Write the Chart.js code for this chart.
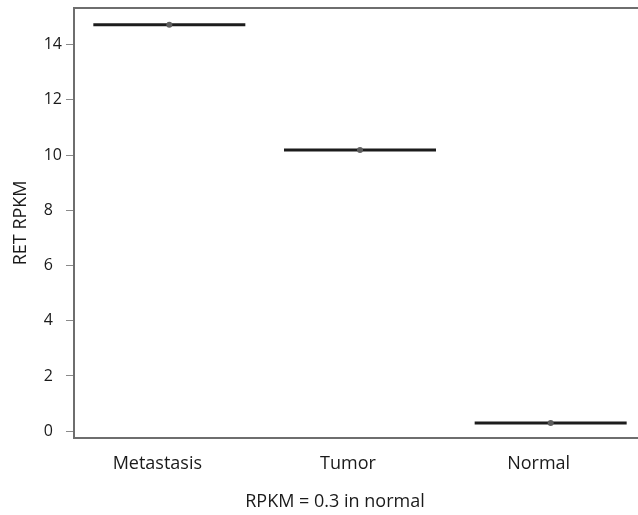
<!DOCTYPE html>
<html>
<head>
<meta charset="utf-8">
<script src="https://cdn.jsdelivr.net/npm/chart.js@4.4.0/dist/chart.umd.min.js"></script>
<style>
  html, body { margin: 0; padding: 0; background: #fff; overflow: hidden; }
  #wrap { position: relative; width: 670px; height: 515px; }
</style>
</head>
<body>
<div id="wrap"><canvas id="rpkmChart"></canvas></div>
<script>
// RET expression per sample group
const groups = ["Metastasis", "Tumor", "Normal"];
const rpkm = [14.72, 10.19, 0.3];
const yTicks = [0, 2, 4, 6, 8, 10, 12, 14];

const textColor = "#1a1a1a";
const axisColor = "#6e6e6e";
const fontFamily = "'Open Sans', 'Noto Sans', sans-serif";

new Chart(document.getElementById("rpkmChart"), {
  type: "line",
  data: {
    labels: groups,
    datasets: [
      {
        // median dot
        data: rpkm,
        showLine: false,
        pointStyle: "circle",
        pointRadius: 3,
        pointBackgroundColor: "#5e5e5e",
        pointBorderWidth: 0
      },
      {
        // collapsed box (single value per group)
        data: rpkm,
        showLine: false,
        pointStyle: "line",
        pointRadius: 76,
        pointBorderWidth: 3,
        pointBorderColor: "#1c1c1c"
      }
    ]
  },
  options: {
    responsive: true,
    maintainAspectRatio: false,
    animation: false,
    events: [],
    layout: { autoPadding: false, padding: { top: 3, right: 24, left: 24, bottom: 0 } },
    plugins: {
      legend: { display: false },
      tooltip: { enabled: false },
      title: {
        display: true,
        position: "bottom",
        text: "RPKM = 0.3 in normal",
        color: textColor,
        font: { family: fontFamily, size: 18, weight: "normal" },
        padding: { top: 2, bottom: 2 }
      }
    },
    scales: {
      x: {
        offset: true,
        grid: { drawOnChartArea: false, drawTicks: false },
        border: { display: true, color: axisColor, width: 2 },
        ticks: {
          padding: 15,
          labelOffset: -12,
          color: textColor,
          font: { family: fontFamily, size: 18 }
        }
      },
      xTop: {
        position: "top",
        grid: { display: false, drawTicks: false },
        border: { display: true, color: axisColor, width: 2 },
        ticks: { display: false }
      },
      y: {
        min: -0.24,
        max: 15.33,
        afterBuildTicks: scale => {
          scale.ticks = yTicks.map(v => ({ value: v }));
        },
        grid: { drawOnChartArea: false, drawTicks: true, tickLength: 8, tickColor: "#8a8a8a", tickWidth: 1 },
        border: { display: true, color: axisColor, width: 2 },
        ticks: {
          crossAlign: "far",
          padding: 2,
          color: textColor,
          font: { family: fontFamily, size: 16, lineHeight: 0.75 }
        }
      },
      // outer axis that only carries the y title
      yTitle: {
        position: "left",
        weight: 10,
        grid: { display: false, drawTicks: false },
        border: { display: false },
        ticks: { display: false },
        title: {
          display: true,
          text: "RET RPKM",
          color: textColor,
          font: { family: fontFamily, size: 18 },
          padding: { top: -13.8, bottom: 11.9 }
        }
      }
    }
  }
});
</script>
</body>
</html>
